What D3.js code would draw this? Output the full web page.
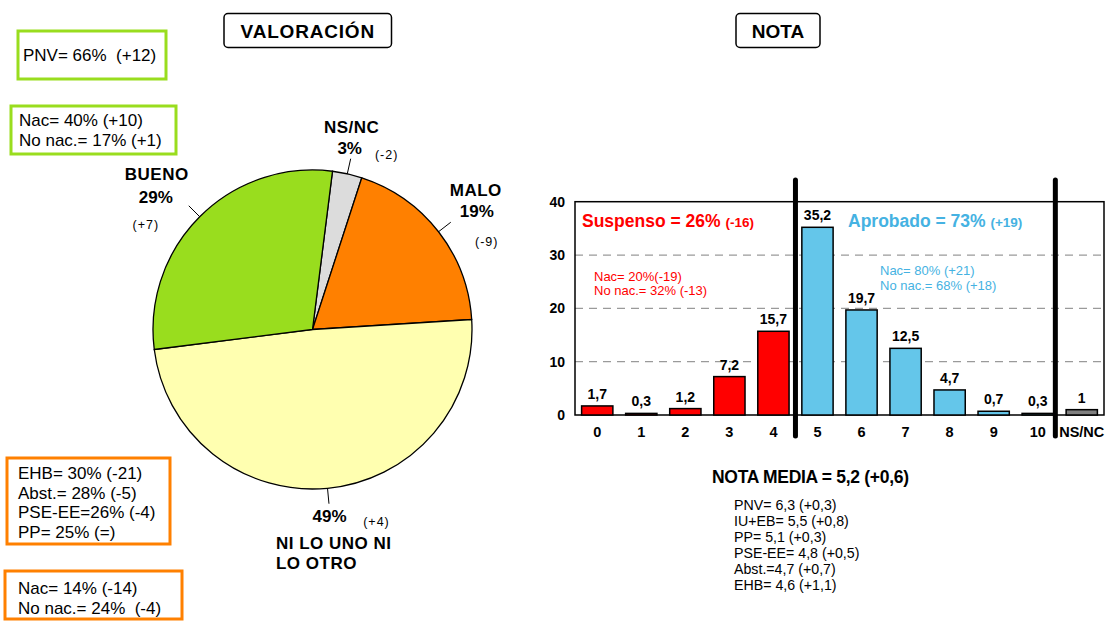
<!DOCTYPE html>
<html lang="es">
<head>
<meta charset="UTF-8">
<title>Valoración y nota</title>
<script src="https://d3js.org/d3.v7.min.js"></script>
<style>
    body { margin: 0; background: #fff; }
    svg { display: block; }
    text { font-family: "Liberation Sans", Arial, sans-serif; fill: #000; white-space: pre; }
    .bold { font-weight: bold; }
</style>
</head>
<body>
<div id="chart"></div>
<script>
// ---- data ----
const pieLabels  = ["NS/NC", "MALO", "NI LO UNO NI LO OTRO", "BUENO"];
const pieValues  = [3, 19, 49, 29];
const pieChanges = ["(-2)", "(-9)", "(+4)", "(+7)"];

const notaCats   = ["0", "1", "2", "3", "4", "5", "6", "7", "8", "9", "10", "NS/NC"];
const notaValues = [1.7, 0.3, 1.2, 7.2, 15.7, 35.2, 19.7, 12.5, 4.7, 0.7, 0.3, 1];
const yTicks     = [0, 10, 20, 30, 40];

const buenoBox1 = ["PNV= 66%  (+12)"];
const buenoBox2 = ["Nac= 40% (+10)", "No nac.= 17% (+1)"];
const maloBox1  = ["EHB= 30% (-21)", "Abst.= 28% (-5)", "PSE-EE=26% (-4)", "PP= 25% (=)"];
const maloBox2  = ["Nac= 14% (-14)", "No nac.= 24%  (-4)"];

const suspensoTitle = ["Suspenso = 26%", "(-16)"];
const aprobadoTitle = ["Aprobado = 73%", "(+19)"];
const suspensoLines = ["Nac= 20%(-19)", "No nac.= 32% (-13)"];
const aprobadoLines = ["Nac= 80% (+21)", "No nac.= 68% (+18)"];

const notaMedia      = "NOTA MEDIA = 5,2 (+0,6)";
const notaMediaLines = ["PNV= 6,3 (+0,3)", "IU+EB= 5,5 (+0,8)", "PP= 5,1 (+0,3)",
                        "PSE-EE= 4,8 (+0,5)", "Abst.=4,7 (+0,7)", "EHB= 4,6 (+1,1)"];

// ---- styles ----
const pieColors = ["#dcdcdc", "#ff8000", "#ffffb0", "#99dd1e"];
const green = "#99dd1e", orange = "#ff8000";
const red = "#ff0000", blueBar = "#64c6ea", blueText = "#45b2e2", grayBar = "#808080";

const W = 1106, H = 621;
const svg = d3.select("#chart").append("svg").attr("width", W).attr("height", H);

// title boxes
function titleBox(x0, x1, label, spacing) {
    svg.append("rect").attr("x", x0).attr("y", 13.5).attr("width", x1 - x0).attr("height", 34)
        .attr("rx", 4).attr("fill", "#fff").attr("stroke", "#000").attr("stroke-width", 1.5);
    svg.append("text").attr("class", "bold").attr("x", (x0 + x1) / 2).attr("y", 38)
        .attr("text-anchor", "middle").style("font-size", "19px").style("letter-spacing", spacing + "px")
        .text(label);
}
titleBox(224, 391.5, "VALORACIÓN", 0.8);
titleBox(736, 820, "NOTA", 0);

// side boxes
function sideBox(x0, y0, x1, y1, color, lines, tx, ty, lh) {
    svg.append("rect").attr("x", x0).attr("y", y0).attr("width", x1 - x0).attr("height", y1 - y0)
        .attr("fill", "#fff").attr("stroke", color).attr("stroke-width", 3);
    svg.append("g").selectAll("text").data(lines).join("text")
        .attr("x", tx).attr("y", (d, i) => ty + i * lh)
        .style("font-size", "17px").text(d => d);
}
sideBox(18, 31, 166, 79, green, buenoBox1, 23, 61, 20);
sideBox(11, 106, 176, 154, green, buenoBox2, 19, 126, 20);
sideBox(7, 458, 170, 544, orange, maloBox1, 18, 479, 19.7);
sideBox(5, 571, 182, 619, orange, maloBox2, 18, 594, 19.5);

// ---- pie ----
const cx = 312.5, cy = 329.5, R = 159.5;
const deg = Math.PI / 180;
const pie = d3.pie().sort(null).startAngle(7.2 * deg).endAngle(367.2 * deg);
const arcs = pie(pieValues);
const arc = d3.arc().innerRadius(0).outerRadius(R);
const gPie = svg.append("g").attr("transform", `translate(${cx},${cy})`);
gPie.selectAll("path").data(arcs).join("path")
    .attr("d", arc).attr("fill", (d, i) => pieColors[i])
    .attr("stroke", "#000").attr("stroke-width", 1.3);

// leader lines
const rIn = R, rOut = 175;
const mid = d => (d.startAngle + d.endAngle) / 2;
gPie.selectAll("line").data(arcs).join("line")
    .attr("x1", d => rIn * Math.sin(mid(d))).attr("y1", d => -rIn * Math.cos(mid(d)))
    .attr("x2", d => rOut * Math.sin(mid(d))).attr("y2", d => -rOut * Math.cos(mid(d)))
    .attr("stroke", "#000").attr("stroke-width", 1);

// label layout offsets relative to the leader end
const labelLayout = [
    { name: [[1, -26]], pct: [-1, -5], chg: [36, 0], nameAnchor: "middle" },
    { name: [[25, -26]], pct: [26, -5], chg: [36, 24], nameAnchor: "middle" },
    { name: [[-53, 45], [-53, 65]], pct: [0.5, 18], chg: [47.5, 22], nameAnchor: "start" },
    { name: [[-32, -26]], pct: [-33, -3], chg: [-43, 23], nameAnchor: "middle" }
];
arcs.forEach((d, i) => {
    const ex = rOut * Math.sin(mid(d)), ey = -rOut * Math.cos(mid(d));
    const L = labelLayout[i];
    const nameLines = L.name.length > 1 ? ["NI LO UNO NI", "LO OTRO"] : [pieLabels[i]];
    nameLines.forEach((t, k) => {
        gPie.append("text").attr("class", "bold")
            .attr("x", ex + L.name[k][0]).attr("y", ey + L.name[k][1])
            .attr("text-anchor", L.nameAnchor)
            .style("font-size", "17px").style("letter-spacing", "0.5px").text(t);
    });
    gPie.append("text").attr("class", "bold")
        .attr("x", ex + L.pct[0]).attr("y", ey + L.pct[1]).attr("text-anchor", "middle")
        .style("font-size", "17px").text(pieValues[i] + "%");
    gPie.append("text")
        .attr("x", ex + L.chg[0]).attr("y", ey + L.chg[1]).attr("text-anchor", "middle")
        .style("font-size", "12.5px").style("letter-spacing", "1px").text(pieChanges[i]);
});

// ---- bar chart ----
const plot = { left: 575, right: 1104, top: 201.7, bottom: 415 };
const x = d3.scaleBand().domain(notaCats).range([plot.left, plot.right])
    .paddingInner(0.29).paddingOuter(0.15);
const y = d3.scaleLinear().domain([0, 40]).range([plot.bottom, plot.top]);

const gBar = svg.append("g");

// dashed grid
gBar.selectAll("line.grid").data(yTicks.filter(t => t > 0 && t < 40)).join("line")
    .attr("class", "grid")
    .attr("x1", plot.left).attr("x2", plot.right)
    .attr("y1", d => y(d)).attr("y2", d => y(d))
    .attr("stroke", "#9a9a9a").attr("stroke-width", 1.2).attr("stroke-dasharray", "8,6");

// frame
gBar.append("rect").attr("x", plot.left).attr("y", plot.top)
    .attr("width", plot.right - plot.left).attr("height", plot.bottom - plot.top)
    .attr("fill", "none").attr("stroke", "#000").attr("stroke-width", 1.5);

// y axis labels
const yAxis = d3.axisLeft(y).tickValues(yTicks).tickSize(0).tickPadding(10);
gBar.append("g").attr("transform", `translate(${plot.left},0)`).call(yAxis)
    .call(g => g.select(".domain").remove())
    .call(g => g.selectAll("text").attr("class", "bold")
        .style("font-size", "14px").style("font-family", "'Liberation Sans', Arial, sans-serif"));

// x axis labels
const xAxis = d3.axisBottom(x).tickSize(0).tickPadding(12);
gBar.append("g").attr("transform", `translate(0,${plot.bottom})`).call(xAxis)
    .call(g => g.select(".domain").remove())
    .call(g => g.selectAll("text").attr("class", "bold")
        .style("font-size", "14.5px").style("font-family", "'Liberation Sans', Arial, sans-serif"));

const barColor = (c, i) => i < 5 ? red : (c === "NS/NC" ? grayBar : blueBar);
const bars = notaCats.map((c, i) => ({ c, v: notaValues[i], i }));

gBar.selectAll("rect.bar").data(bars).join("rect")
    .attr("class", "bar")
    .attr("x", d => x(d.c)).attr("width", x.bandwidth())
    .attr("y", d => y(d.v)).attr("height", d => y(0) - y(d.v))
    .attr("fill", d => barColor(d.c, d.i))
    .attr("stroke", "#000").attr("stroke-width", 1.5);

gBar.selectAll("text.val").data(bars).join("text")
    .attr("class", "val bold")
    .attr("x", d => x(d.c) + x.bandwidth() / 2).attr("y", d => y(d.v) - 7)
    .attr("text-anchor", "middle").style("font-size", "14px")
    .text(d => String(d.v).replace(".", ","));

// thick separators
const sep1 = (x("4") + x.bandwidth() + x("5")) / 2;
const sep2 = x("10") + x.bandwidth() + 2;
[sep1, sep2].forEach(sx => {
    gBar.append("line").attr("x1", sx).attr("x2", sx).attr("y1", 180).attr("y2", 436)
        .attr("stroke", "#000").attr("stroke-width", 5).attr("stroke-linecap", "round");
});

// group titles
function groupTitle(tx, ty, parts, color) {
    const t = gBar.append("text").attr("x", tx).attr("y", ty).attr("class", "bold").style("fill", color);
    t.append("tspan").style("font-size", "17.5px").text(parts[0] + " ");
    t.append("tspan").style("font-size", "13.5px").text(parts[1]);
}
groupTitle(582, 227, suspensoTitle, red);
groupTitle(848, 227, aprobadoTitle, blueText);

gBar.append("g").selectAll("text").data(suspensoLines).join("text")
    .attr("x", 594).attr("y", (d, i) => 281 + i * 14)
    .style("font-size", "13px").style("fill", red).text(d => d);
gBar.append("g").selectAll("text").data(aprobadoLines).join("text")
    .attr("x", 880).attr("y", (d, i) => 275 + i * 15)
    .style("font-size", "13px").style("fill", blueText).text(d => d);

// nota media
svg.append("text").attr("class", "bold").attr("x", 712).attr("y", 483)
    .style("font-size", "17.5px").style("letter-spacing", "-0.3px").text(notaMedia);
svg.append("g").selectAll("text").data(notaMediaLines).join("text")
    .attr("x", 734).attr("y", (d, i) => 510 + i * 16)
    .style("font-size", "14.2px").text(d => d);
</script>
</body>
</html>
